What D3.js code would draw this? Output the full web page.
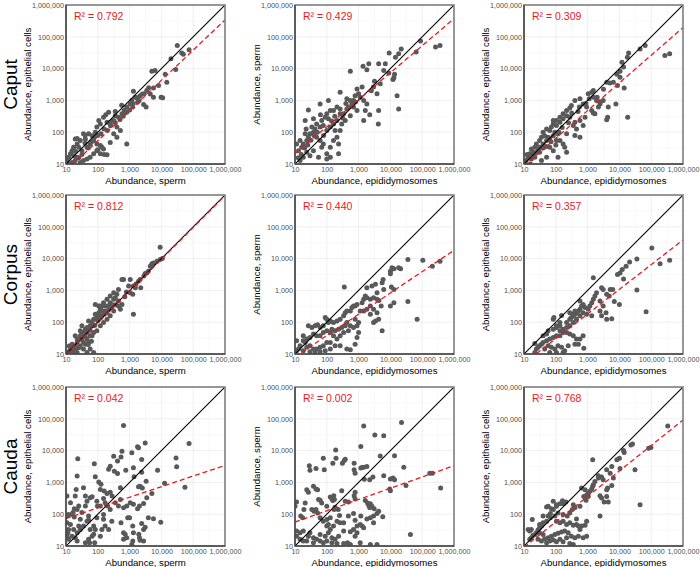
<!DOCTYPE html>
<html><head><meta charset="utf-8">
<script src="https://cdn.jsdelivr.net/npm/d3@7/dist/d3.min.js"></script>
<style>body{margin:0;background:#fff;}svg{display:block;font-family:"Liberation Sans",Arial,sans-serif;}</style>
</head><body><svg id="chart" width="700" height="567"></svg>
<script>
// ---- data (values stored as log10 abundance: [log10 x, log10 y]) ----
const rowLabels = ["Caput", "Corpus", "Cauda"];
const xTitles = ["Abundance, sperm", "Abundance, epididymosomes", "Abundance, epididymosomes"];
const yTitles = ["Abundance, epithelial cells", "Abundance, sperm", "Abundance, epithelial cells"];
const r2Labels = [["0.792", "0.429", "0.309"], ["0.812", "0.440", "0.357"], ["0.042", "0.002", "0.768"]];
const fitSlope = [[0.95, 0.85, 0.87], [1.0, 0.67, 0.776], [0.334, 0.354, 0.80]];
const fitIntercept = [[-0.17, 0.47, 0.07], [-0.02, 0.24, -0.07], [1.53, 1.40, 0.16]];
const tickValues = [10, 100, 1000, 10000, 100000, 1000000];

const caputSpermEpi = [[4.50,4.73],[4.64,4.49],[4.69,4.45],[4.87,4.59],[4.30,4.31],[4.45,3.97],[3.70,3.92],[3.80,3.94],[4.12,3.82],[4.17,3.57],[3.91,3.47],[3.75,3.39],[3.54,3.31],[3.46,3.21],[3.33,3.15],[3.23,3.08],[3.12,3.29],[3.18,3.10],[3.07,3.00],[3.02,2.89],[2.91,2.79],[2.83,2.68],[3.75,3.10],[3.99,3.10],[4.04,3.08],[3.52,2.79],[3.44,2.87],[3.25,2.94],[3.10,2.79],[2.91,2.63],[2.76,2.58],[2.65,2.47],[2.55,2.52],[2.50,2.37],[2.39,2.26],[2.29,2.31],[2.60,2.16],[2.71,2.05],[2.91,1.63],[2.34,2.63],[2.18,2.47],[2.08,2.26],[2.03,2.37],[1.97,2.16],[1.92,2.00],[1.82,1.89],[1.71,1.95],[1.61,1.79],[1.55,1.95],[1.45,1.74],[1.35,1.63],[1.29,1.79],[1.24,1.53],[1.19,1.42],[1.14,1.32],[1.08,1.21],[1.03,1.11],[1.40,1.53],[1.50,1.42],[1.66,1.53],[1.76,1.63],[1.87,1.74],[1.97,1.63],[2.08,1.58],[2.13,1.53],[2.18,1.47],[2.29,1.29],[2.39,1.68],[2.50,1.95],[2.60,1.84],[2.08,1.32],[1.97,1.42],[1.87,1.32],[1.76,1.21],[1.66,1.16],[1.55,1.11],[1.45,1.05],[1.35,1.21],[1.24,1.26],[1.29,1.11],[1.19,1.05],[1.6,1.65],[1.7,1.5],[1.8,1.7],[1.9,1.85],[2.0,1.9],[2.1,1.95],[2.2,2.1],[2.3,2.05],[2.4,2.2],[2.45,2.35],[2.55,2.3],[2.7,2.4],[2.8,2.5],[2.85,2.6],[3.0,2.7],[3.1,2.9],[3.3,3.0],[3.4,3.2],[3.6,3.4],[3.65,3.2],[1.5,1.3],[1.4,1.2],[1.3,1.4],[1.1,1.0],[1.6,1.9],[2.0,1.45],[2.25,2.55],[2.55,2.65],[2.75,2.85],[2.2,1.3],[1.35,1.8]];

const caputEpiSperm = [[4.95,4.87],[5.56,4.73],[5.42,4.68],[4.81,4.52],[4.34,4.62],[4.26,4.47],[4.16,4.36],[3.96,4.49],[3.84,4.15],[3.79,3.94],[3.63,4.15],[3.32,4.15],[3.26,3.96],[3.14,4.07],[2.74,3.92],[4.13,3.82],[4.11,3.71],[4.08,3.66],[3.95,3.86],[4.21,3.15],[4.26,2.73],[3.63,2.68],[3.62,2.26],[3.35,2.55],[3.26,2.89],[3.16,3.00],[3.11,3.42],[2.95,3.36],[3.00,3.21],[2.89,3.15],[2.84,3.00],[2.79,2.89],[2.68,2.79],[2.63,2.73],[2.53,2.58],[2.42,2.73],[2.32,2.79],[2.21,2.68],[2.11,2.68],[2.00,2.58],[2.05,2.42],[1.95,2.47],[1.84,2.37],[1.79,2.89],[2.05,3.00],[2.42,3.26],[2.63,3.05],[2.74,3.00],[2.84,2.79],[2.95,2.68],[2.74,2.52],[2.58,2.37],[2.42,2.58],[2.32,2.37],[2.21,2.26],[2.11,2.16],[2.00,2.05],[1.89,2.21],[1.79,2.16],[1.68,2.26],[1.63,2.10],[1.58,2.00],[1.53,2.16],[1.47,1.95],[1.42,1.84],[1.37,1.74],[1.32,1.95],[1.26,1.63],[1.21,1.53],[1.16,1.74],[1.11,1.42],[1.05,1.63],[1.42,2.70],[1.32,2.37],[1.58,2.42],[1.68,1.84],[1.79,1.74],[1.84,1.53],[1.89,1.63],[2.00,1.32],[2.11,1.53],[2.21,1.74],[2.26,2.05],[2.37,1.63],[2.32,1.84],[2.42,2.05],[2.47,2.26],[3.16,2.37],[3.21,2.68],[3.58,3.21],[3.47,3.42],[3.68,3.52],[2.00,1.16],[1.74,1.21],[1.47,1.26],[1.26,1.21],[1.16,1.11],[1.37,1.37],[1.58,1.42],[2.37,1.32],[2.11,1.21],[1.2,1.3],[1.1,1.2],[1.3,1.5],[1.4,1.6],[1.5,1.75],[1.6,1.9],[1.7,2.0],[1.9,1.9],[2.15,2.35],[2.5,2.45],[2.6,2.9],[2.9,2.95],[3.05,3.1],[3.4,3.3],[3.5,3.6],[1.35,2.1],[1.8,2.55],[2.25,2.5]];

const caputEpiEpi = [[5.43,4.41],[5.58,4.47],[4.81,4.73],[4.65,4.62],[4.29,4.49],[4.25,4.36],[4.08,4.20],[4.13,4.05],[4.02,3.92],[3.92,3.82],[4.02,3.73],[3.81,3.57],[3.60,3.57],[4.15,3.39],[3.94,3.47],[3.89,2.89],[3.65,2.79],[3.63,2.47],[3.60,2.39],[4.26,2.47],[3.18,3.31],[3.13,3.26],[3.02,3.21],[3.18,3.10],[3.28,3.00],[3.39,2.89],[3.34,2.79],[3.49,3.00],[3.23,2.58],[3.18,2.60],[3.13,2.68],[2.97,2.79],[2.86,2.89],[2.76,3.05],[2.74,2.79],[2.60,3.00],[2.49,2.84],[2.44,2.76],[2.34,2.68],[2.23,2.58],[2.13,2.47],[2.02,2.37],[1.92,2.26],[1.86,2.16],[1.81,2.05],[1.71,2.10],[1.60,2.00],[1.55,1.84],[1.49,1.74],[1.39,1.63],[1.34,1.53],[1.23,1.47],[1.18,1.32],[1.13,1.21],[1.07,1.11],[2.34,2.52],[2.13,2.31],[2.02,2.21],[1.92,2.37],[2.23,2.42],[2.44,2.47],[2.60,2.31],[2.76,2.37],[2.86,2.21],[2.92,2.47],[2.65,2.10],[2.55,2.21],[2.34,1.95],[2.23,1.63],[2.28,1.53],[2.34,1.37],[2.13,1.74],[2.02,1.74],[1.92,1.89],[1.81,1.79],[1.71,1.74],[1.60,1.63],[1.49,1.53],[1.39,1.37],[1.34,1.21],[1.23,1.16],[1.55,1.11],[1.71,1.21],[1.92,1.42],[1.81,1.53],[2.07,1.21],[2.76,1.84],[1.49,1.37],[1.28,1.37],[1.65,1.89],[1.76,1.84],[1.97,2.00],[2.07,1.95],[1.1,1.3],[1.2,1.0],[1.3,1.3],[1.45,1.45],[1.6,1.5],[1.7,1.55],[1.85,1.7],[2.0,1.6],[2.1,2.0],[2.2,2.15],[2.5,2.6],[2.7,2.65],[2.95,2.9],[3.05,3.05],[3.3,3.1],[3.4,2.95],[3.5,3.35],[3.7,3.55],[2.4,2.3],[2.6,1.9]];

const corpusSpermEpi = [[3.96,4.36],[4.03,4.00],[3.96,3.97],[3.86,3.92],[3.75,3.86],[3.70,3.84],[3.65,3.76],[3.59,3.60],[3.54,3.55],[3.49,3.53],[3.33,3.34],[3.28,3.29],[3.12,3.14],[3.18,3.08],[3.10,2.88],[3.02,2.93],[2.97,3.14],[2.81,3.34],[3.02,3.34],[2.76,3.34],[2.65,3.03],[3.35,3.08],[3.12,2.25],[2.71,2.41],[2.60,2.88],[2.55,2.77],[2.50,2.72],[2.39,2.61],[2.29,2.51],[2.18,2.51],[2.08,2.41],[2.03,2.30],[1.97,2.20],[1.92,2.25],[1.87,2.09],[1.82,1.99],[1.76,1.89],[1.71,2.04],[1.66,1.83],[1.61,1.78],[1.55,1.68],[1.50,1.63],[1.45,1.57],[1.40,1.47],[1.35,1.36],[1.29,1.26],[1.24,1.21],[1.19,1.16],[1.14,1.10],[1.08,1.07],[1.45,1.26],[1.55,1.36],[1.66,1.47],[1.76,1.57],[1.87,1.68],[1.97,1.73],[2.08,1.89],[2.18,1.99],[2.29,2.09],[2.39,2.20],[2.50,2.35],[2.29,2.30],[2.08,2.20],[1.92,2.56],[2.03,2.51],[2.13,2.35],[2.23,2.35],[2.34,2.51],[2.44,2.46],[1.66,1.05],[1.87,1.05],[1.76,1.16],[1.35,1.05],[1.24,1.05],[1.55,1.16],[1.61,1.31],[1.71,1.36],[1.82,1.57],[1.97,2.09],[2.08,2.51],[2.18,2.61],[2.29,2.72],[2.39,2.82],[2.50,2.93],[2.65,2.67],[2.76,2.56],[1.66,1.68],[1.50,1.89],[1.45,1.73],[1.35,1.47],[1.29,1.57],[1.19,1.31],[1.14,1.21],[1.1,1.25],[1.3,1.15],[1.5,1.45],[1.6,1.55],[1.75,1.75],[1.8,1.4],[1.9,1.9],[2.0,2.05],[2.1,2.15],[2.2,2.25],[2.35,2.4],[2.45,2.55],[2.55,2.55],[2.65,2.5],[2.85,2.8],[2.9,2.95],[3.2,3.2],[3.45,3.45],[1.4,1.2],[1.7,1.3]];

const corpusEpiSperm = [[4.55,3.97],[5.02,3.95],[5.32,3.76],[5.56,3.92],[4.32,3.68],[4.26,3.71],[4.11,3.68],[4.00,3.60],[4.05,3.71],[4.00,3.52],[3.77,3.34],[3.74,3.24],[3.53,3.19],[3.42,3.14],[3.26,3.08],[2.55,3.11],[4.03,3.11],[4.11,3.03],[3.79,3.03],[3.58,2.93],[3.47,2.77],[3.37,2.72],[3.26,2.77],[3.21,2.82],[3.16,2.72],[3.11,2.61],[2.95,2.56],[2.89,2.51],[2.84,2.51],[2.79,2.46],[2.74,2.35],[2.63,2.35],[3.58,2.72],[3.64,2.68],[3.71,2.51],[3.37,2.51],[3.47,2.41],[3.58,2.30],[3.63,2.09],[3.53,2.04],[3.47,1.99],[3.37,2.25],[3.26,2.41],[3.16,2.35],[3.05,2.35],[4.00,2.51],[4.11,2.61],[3.74,1.73],[4.55,2.65],[4.84,2.09],[2.58,2.30],[2.53,2.20],[2.42,2.09],[2.32,2.04],[2.21,1.99],[2.11,2.04],[2.05,1.99],[2.00,2.09],[1.95,2.15],[1.89,1.89],[1.79,1.83],[1.71,1.92],[1.63,1.89],[1.53,1.83],[1.42,1.89],[2.63,1.99],[2.58,1.89],[2.47,1.83],[2.37,1.78],[2.26,1.73],[2.16,1.78],[2.11,1.68],[2.00,1.73],[1.89,1.68],[1.79,1.57],[1.68,1.57],[1.58,1.63],[1.47,1.52],[1.37,1.47],[1.32,1.36],[1.26,1.42],[1.16,1.26],[1.11,1.16],[1.05,1.10],[2.74,1.89],[2.84,1.83],[2.95,1.89],[2.89,2.09],[3.00,1.99],[2.68,1.73],[2.53,1.68],[2.42,1.57],[2.32,1.47],[2.21,1.57],[2.11,1.36],[2.00,1.36],[1.89,1.26],[1.79,1.21],[1.68,1.16],[1.58,1.16],[1.47,1.26],[1.37,1.21],[1.26,1.10],[2.42,1.26],[2.26,1.26],[2.11,1.16],[1.95,1.10],[2.63,1.16],[1.79,1.07],[1.63,1.05],[1.47,1.07],[2.89,1.31],[2.74,1.13],[1.05,1.42],[1.26,1.57],[2.95,1.52],[3.00,1.68]];

const corpusEpiEpi = [[5.02,4.33],[4.55,3.99],[4.32,3.89],[4.21,3.76],[4.09,3.66],[4.02,3.55],[3.94,3.50],[4.13,3.36],[4.55,3.01],[5.28,3.84],[5.58,3.95],[4.84,2.33],[4.00,2.56],[3.76,2.11],[3.84,2.65],[3.79,3.03],[3.71,3.03],[3.68,2.82],[3.60,2.88],[3.49,3.03],[3.44,3.08],[3.18,3.40],[3.28,2.93],[3.23,2.82],[3.18,2.72],[3.13,2.61],[3.07,2.51],[3.02,2.41],[2.92,2.46],[2.86,2.56],[2.81,2.51],[2.76,2.41],[2.71,2.35],[2.65,2.30],[2.60,2.25],[2.55,2.20],[2.49,2.15],[2.44,2.09],[3.39,2.67],[3.49,2.51],[3.39,2.35],[3.58,2.30],[3.44,2.20],[3.60,2.09],[3.13,2.20],[2.97,2.25],[2.86,2.30],[2.76,2.20],[2.65,2.09],[2.55,1.99],[2.44,1.89],[2.34,1.83],[2.23,1.78],[2.13,1.89],[2.02,1.83],[1.92,2.09],[1.94,2.15],[2.13,1.99],[2.23,1.68],[2.34,1.68],[2.44,1.63],[2.55,1.57],[2.65,1.47],[2.60,1.31],[2.71,1.31],[2.76,1.47],[2.86,1.57],[2.88,1.18],[2.13,1.57],[2.02,1.57],[1.92,1.52],[1.81,1.47],[1.71,1.42],[1.60,1.36],[1.55,1.31],[1.49,1.26],[1.44,1.21],[1.39,1.16],[1.34,1.05],[1.65,1.16],[1.76,1.26],[1.86,1.21],[1.97,1.16],[2.07,1.26],[2.18,1.21],[2.28,1.10],[2.39,1.26],[1.81,1.05],[2.02,1.05],[2.23,1.05],[1.71,1.63],[1.60,1.57],[1.76,1.73],[1.92,1.78],[2.02,1.89],[2.13,1.73],[2.34,1.99],[2.44,2.30],[2.55,2.25],[2.60,2.35],[2.76,2.67],[2.18,2.21],[1.34,1.33]];

const caudaSpermEpi = [[2.81,4.79],[3.49,4.24],[3.25,4.12],[3.28,4.09],[2.76,3.98],[2.73,3.80],[3.07,3.93],[2.88,3.38],[3.12,3.46],[3.14,3.18],[3.38,3.32],[3.52,3.04],[3.33,2.88],[3.28,2.86],[3.40,2.82],[3.70,2.65],[3.54,2.52],[3.44,2.34],[3.31,2.26],[3.25,2.17],[3.12,2.31],[3.02,2.36],[2.91,2.26],[2.81,2.20],[2.71,2.46],[2.55,2.36],[2.45,2.57],[2.39,2.69],[2.29,2.65],[2.20,2.73],[2.10,2.94],[2.08,2.78],[1.97,2.41],[1.99,2.26],[2.08,2.26],[2.23,2.36],[2.31,2.26],[2.18,1.84],[2.23,1.63],[2.13,1.52],[2.39,2.15],[2.44,1.78],[2.65,2.26],[2.73,1.73],[2.86,1.37],[2.81,1.42],[2.94,1.89],[3.00,1.89],[3.12,1.42],[3.10,1.63],[3.29,1.37],[3.31,1.26],[3.44,1.52],[3.49,1.59],[3.59,1.89],[3.75,1.86],[3.98,1.75],[3.38,1.71],[3.88,3.38],[4.10,2.97],[4.46,3.77],[4.48,3.49],[4.74,2.85],[4.87,4.22],[3.38,3.72],[2.62,3.28],[2.62,3.67],[2.52,3.35],[2.71,2.83],[1.90,1.10],[1.74,1.10],[1.71,1.21],[1.61,1.10],[1.35,1.16],[1.29,1.26],[1.19,1.31],[1.08,1.52],[1.06,1.42],[1.03,1.31],[1.08,1.21],[1.03,1.73],[1.03,1.94],[1.03,2.57],[1.14,2.36],[1.08,1.99],[1.19,1.99],[1.26,1.91],[1.26,2.17],[1.22,2.05],[1.35,2.15],[1.40,2.26],[1.45,1.84],[1.50,2.05],[1.61,2.26],[1.66,2.41],[1.29,2.57],[1.32,2.78],[1.37,3.74],[1.35,3.20],[1.55,2.83],[1.61,2.57],[1.76,2.52],[1.82,2.55],[1.89,3.59],[1.92,3.18],[2.03,3.01],[2.18,2.49],[2.34,3.41],[2.39,3.51],[2.50,3.82],[1.55,1.63],[1.40,1.63],[1.45,1.52],[1.35,1.42],[1.24,1.52],[1.14,1.68],[1.66,1.78],[1.71,1.82],[1.76,1.52],[1.87,1.63],[1.87,1.37],[1.92,1.52],[1.82,1.31],[1.97,1.89],[2.18,1.99],[1.71,1.94],[2.81,1.21],[2.91,1.26],[3.07,1.05],[3.33,1.18],[3.44,1.16],[3.10,1.16],[2.34,1.52],[2.08,1.31]];

const caudaEpiSperm = [[4.35,4.88],[3.16,4.77],[3.51,4.49],[3.79,4.47],[3.07,4.13],[2.28,4.02],[1.89,3.76],[2.29,3.76],[1.45,3.52],[1.47,3.38],[1.66,3.44],[1.92,3.40],[2.19,3.60],[2.49,3.60],[2.55,3.69],[2.58,3.73],[2.86,3.60],[2.86,3.40],[2.89,3.29],[3.07,3.45],[3.11,3.47],[3.16,3.48],[3.26,3.50],[3.68,3.83],[4.13,3.84],[4.42,3.48],[3.45,3.17],[3.35,3.08],[3.18,3.10],[3.79,3.21],[4.08,3.14],[4.13,3.08],[4.49,2.90],[3.98,2.79],[4.00,2.74],[2.47,2.74],[3.21,2.43],[2.89,2.69],[2.86,2.58],[2.89,2.48],[2.68,2.38],[2.58,2.41],[2.22,2.58],[2.11,2.54],[2.16,2.48],[2.19,2.43],[2.24,2.46],[2.40,1.96],[2.36,2.15],[2.26,2.22],[2.23,2.15],[2.00,2.25],[1.84,2.35],[1.79,2.44],[1.74,2.46],[1.71,2.77],[1.66,2.79],[1.58,2.88],[1.42,2.69],[1.37,2.77],[1.32,2.35],[1.28,2.15],[1.05,2.38],[1.00,2.25],[1.18,1.94],[1.24,1.89],[1.53,2.15],[1.60,2.09],[1.66,2.15],[1.71,2.04],[1.79,1.89],[1.89,1.78],[2.00,1.83],[2.11,1.89],[2.00,1.63],[2.05,1.68],[2.11,1.52],[2.21,1.63],[2.32,1.78],[2.42,1.73],[2.53,1.73],[2.68,1.94],[2.84,2.02],[2.89,1.81],[2.95,1.63],[2.84,1.52],[2.95,1.42],[2.89,1.31],[2.74,1.45],[2.53,1.47],[2.37,1.31],[2.26,1.21],[2.16,1.26],[2.05,1.42],[1.95,1.31],[1.79,1.36],[1.68,1.21],[1.58,1.26],[1.47,1.42],[1.42,1.31],[1.26,1.47],[1.16,1.42],[1.05,1.47],[1.05,1.31],[1.16,1.21],[1.26,1.16],[1.37,1.16],[1.58,1.10],[1.79,1.16],[1.89,1.10],[2.00,1.16],[2.16,1.10],[2.32,1.08],[2.53,1.08],[2.74,1.05],[3.37,1.05],[3.58,1.05],[3.26,1.85],[3.37,1.89],[3.47,1.94],[3.35,2.20],[3.32,2.27],[3.28,2.35],[3.37,2.33],[3.42,2.25],[3.49,2.17],[3.63,2.09],[3.58,2.02],[3.47,1.73],[3.11,1.63],[3.16,1.57],[3.05,1.68],[3.76,1.92],[4.63,1.36],[5.58,2.82],[5.24,3.29],[5.32,3.29],[4.00,3.11],[3.07,1.94],[2.65,1.10],[3.05,1.10]];

const caudaEpiEpi = [[5.52,4.77],[4.99,4.10],[4.92,4.07],[4.41,4.21],[4.36,4.18],[4.13,4.00],[4.15,3.94],[4.00,3.76],[3.92,3.71],[4.02,3.44],[4.49,3.40],[3.76,3.50],[3.60,3.40],[3.71,3.29],[3.81,3.14],[3.76,2.90],[3.63,2.82],[3.60,2.77],[3.49,3.08],[3.44,3.17],[3.34,3.21],[3.16,3.71],[3.34,3.14],[3.23,3.03],[3.18,2.93],[3.16,2.88],[3.13,2.79],[3.07,2.72],[3.02,2.67],[2.97,2.60],[2.88,2.56],[2.95,2.44],[2.81,2.82],[2.92,2.77],[3.02,2.56],[3.39,2.58],[3.44,2.51],[3.65,2.38],[3.60,2.56],[3.52,2.38],[4.65,2.30],[3.39,1.94],[2.97,1.78],[2.76,2.25],[2.60,2.20],[2.55,2.30],[2.52,2.15],[2.44,2.04],[2.36,1.94],[2.32,2.38],[2.25,2.33],[2.21,2.42],[2.13,2.33],[2.02,2.25],[1.92,2.15],[1.83,2.02],[1.76,1.94],[1.71,1.78],[1.60,1.73],[1.55,1.63],[1.49,1.57],[1.44,1.50],[1.39,1.42],[1.34,1.36],[1.28,1.33],[1.23,1.26],[1.18,1.21],[1.26,1.83],[1.18,1.47],[1.13,1.52],[1.76,2.25],[1.71,2.23],[1.86,2.17],[1.83,1.89],[1.97,1.94],[2.02,1.78],[2.13,1.73],[2.23,1.78],[2.34,1.68],[2.44,1.73],[2.55,1.65],[2.65,1.68],[2.71,1.63],[2.76,1.52],[2.71,1.31],[2.60,1.26],[2.49,1.31],[2.39,1.42],[2.28,1.47],[2.18,1.44],[2.07,1.40],[1.97,1.36],[1.86,1.31],[1.76,1.26],[1.65,1.23],[1.60,1.36],[1.49,1.42],[1.44,1.21],[1.55,1.16],[1.71,1.10],[1.81,1.16],[1.92,1.19],[2.02,1.13],[2.13,1.21],[2.23,1.13],[2.34,1.26],[2.44,1.08],[2.55,1.05],[2.86,1.26],[2.97,1.31],[2.81,1.63],[2.92,1.65],[2.65,1.85],[2.23,1.99],[2.07,2.04],[1.92,2.41],[2.02,2.30],[1.60,1.94],[1.49,1.68],[1.23,1.52]];

const panelData = [
  [caputSpermEpi, caputEpiSperm, caputEpiEpi],
  [corpusSpermEpi, corpusEpiSperm, corpusEpiEpi],
  [caudaSpermEpi, caudaEpiSperm, caudaEpiEpi]
];

// ---- layout ----
const lefts = [66, 295, 524];
const tops = [5, 195, 387];
const size = 159;
const fmt = d3.format(",");
const svg = d3.select("#chart");
const defs = svg.append("defs");

rowLabels.forEach((lab, r) => {
  svg.append("text")
    .attr("transform", `translate(17,${tops[r] + size / 2}) rotate(-90)`)
    .attr("text-anchor", "middle")
    .attr("font-size", 19)
    .attr("fill", "#000")
    .text(lab);
});

for (let r = 0; r < 3; r++) {
  for (let c = 0; c < 3; c++) {
    const L = lefts[c], T = tops[r];
    const x = d3.scaleLog().domain([10, 1e6]).range([0, size]);
    const y = d3.scaleLog().domain([10, 1e6]).range([size, 0]);
    const g = svg.append("g").attr("transform", `translate(${L},${T})`);
    const clipId = `clip${r}${c}`;
    defs.append("clipPath").attr("id", clipId).append("rect").attr("width", size).attr("height", size);

    // gridlines (major decades + minor half-decades)
    const minor = d3.range(1.5, 6, 1).map(v => Math.pow(10, v));
    g.selectAll(".gm").data(minor).join("line")
      .attr("x1", d => x(d)).attr("x2", d => x(d)).attr("y1", 0).attr("y2", size)
      .attr("stroke", "#f3f3f3").attr("stroke-width", 0.6);
    g.selectAll(".gmy").data(minor).join("line")
      .attr("y1", d => y(d)).attr("y2", d => y(d)).attr("x1", 0).attr("x2", size)
      .attr("stroke", "#f3f3f3").attr("stroke-width", 0.6);
    g.selectAll(".gM").data(tickValues).join("line")
      .attr("x1", d => x(d)).attr("x2", d => x(d)).attr("y1", 0).attr("y2", size)
      .attr("stroke", "#ebebeb").attr("stroke-width", 0.8);
    g.selectAll(".gMy").data(tickValues).join("line")
      .attr("y1", d => y(d)).attr("y2", d => y(d)).attr("x1", 0).attr("x2", size)
      .attr("stroke", "#ebebeb").attr("stroke-width", 0.8);

    const plot = g.append("g").attr("clip-path", `url(#${clipId})`);
    // points
    plot.selectAll("circle").data(panelData[r][c]).join("circle")
      .attr("cx", d => x(Math.pow(10, d[0])))
      .attr("cy", d => y(Math.pow(10, d[1])))
      .attr("r", 2.5)
      .attr("fill", "#595959");
    // identity line
    plot.append("line")
      .attr("x1", x(10)).attr("y1", y(10)).attr("x2", x(1e6)).attr("y2", y(1e6))
      .attr("stroke", "#000").attr("stroke-width", 1.1);
    // regression line
    const b = fitSlope[r][c], a = fitIntercept[r][c];
    const line = d3.line().x(d => x(d[0])).y(d => y(d[1]));
    const fitPts = [1, 6].map(lx => [Math.pow(10, lx), Math.pow(10, a + b * lx)]);
    plot.append("path").attr("d", line(fitPts))
      .attr("fill", "none").attr("stroke", "#e8191f").attr("stroke-width", 1.3)
      .attr("stroke-dasharray", "5,3");

    // border
    g.append("rect").attr("width", size).attr("height", size)
      .attr("fill", "none").attr("stroke", "#7f7f7f").attr("stroke-width", 1.6);
    g.append("line").attr("x1", 0).attr("x2", 0).attr("y1", 0).attr("y2", size).attr("stroke", "#222").attr("stroke-width", 1);
    g.append("line").attr("x1", 0).attr("x2", size).attr("y1", size).attr("y2", size).attr("stroke", "#222").attr("stroke-width", 1);

    // axes
    const xa = g.append("g").attr("transform", `translate(0,${size})`)
      .call(d3.axisBottom(x).tickValues(tickValues).tickFormat(fmt).tickSize(0).tickPadding(2.5));
    const ya = g.append("g")
      .call(d3.axisLeft(y).tickValues(tickValues).tickFormat(fmt).tickSize(0).tickPadding(2));
    [xa, ya].forEach(ax => {
      ax.select(".domain").remove();
      ax.selectAll("text").attr("font-size", 7.2).attr("fill", "#4d4d4d")
        .attr("font-family", "'Liberation Sans',Arial,sans-serif");
    });

    // titles
    g.append("text").attr("x", size / 2).attr("y", size + 20)
      .attr("text-anchor", "middle").attr("font-size", 9.6).attr("fill", "#000")
      .text(xTitles[c]);
    g.append("text").attr("transform", `translate(-35,${size / 2}) rotate(-90)`)
      .attr("text-anchor", "middle").attr("font-size", 9.6).attr("fill", "#000")
      .text(yTitles[c]);
    g.append("text").attr("x", 8).attr("y", 15)
      .attr("font-size", 10.5).attr("fill", "#e8191f")
      .text("R\u00b2 = " + r2Labels[r][c]);
  }
}
</script></body></html>
